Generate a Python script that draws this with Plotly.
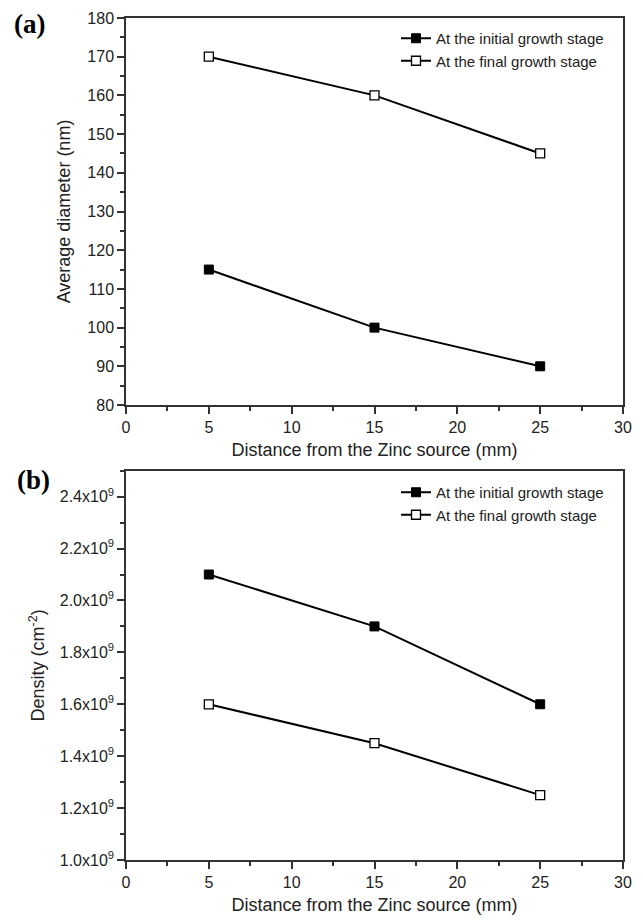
import plotly.graph_objects as go

distance = [5, 15, 25]
diam_initial = [115, 100, 90]
diam_final = [170, 160, 145]
dens_initial = [2.10e9, 1.90e9, 1.60e9]
dens_final = [1.60e9, 1.45e9, 1.25e9]
name_initial = "At the initial growth stage"
name_final = "At the final growth stage"
dens_tickvals = [1.0e9, 1.2e9, 1.4e9, 1.6e9, 1.8e9, 2.0e9, 2.2e9, 2.4e9]
dens_ticktext = ["1.0x10<sup>9</sup>", "1.2x10<sup>9</sup>", "1.4x10<sup>9</sup>", "1.6x10<sup>9</sup>",
                 "1.8x10<sup>9</sup>", "2.0x10<sup>9</sup>", "2.2x10<sup>9</sup>", "2.4x10<sup>9</sup>"]

OFF = 8  # page body margin
W, H = 643 - OFF, 922 - OFF
FONT = "Liberation Sans, Arial, sans-serif"
TXT = "#222"
AX = "#333"

def px_x(p):
    return (p - OFF) / W

def px_y(p):
    return 1 - (p - OFF) / H

line_style = dict(color="black", width=2)
m_fill = dict(symbol="square", size=9, color="black", line=dict(color="black", width=1))
m_open = dict(symbol="square", size=9, color="white", line=dict(color="black", width=1.3))

fig = go.Figure()
fig.add_trace(go.Scatter(x=distance, y=diam_initial, mode="lines+markers", name=name_initial,
                         line=line_style, marker=m_fill, xaxis="x", yaxis="y", legend="legend"))
fig.add_trace(go.Scatter(x=distance, y=diam_final, mode="lines+markers", name=name_final,
                         line=line_style, marker=m_open, xaxis="x", yaxis="y", legend="legend"))
fig.add_trace(go.Scatter(x=distance, y=dens_initial, mode="lines+markers", name=name_initial,
                         line=line_style, marker=m_fill, xaxis="x2", yaxis="y2", legend="legend2"))
fig.add_trace(go.Scatter(x=distance, y=dens_final, mode="lines+markers", name=name_final,
                         line=line_style, marker=m_open, xaxis="x2", yaxis="y2", legend="legend2"))

common_x = dict(range=[0, 30], dtick=5, tick0=0, showline=True, linecolor=AX, linewidth=1.5,
                mirror=True, ticks="outside", ticklen=7, tickwidth=1.5, tickcolor=AX,
                minor=dict(ticks="outside", ticklen=4, dtick=2.5, tickcolor=AX, tickwidth=1.5),
                showgrid=False, zeroline=False, automargin=False,
                tickfont=dict(family=FONT, size=16, color=TXT),
                domain=[px_x(126), px_x(623)])
common_y = dict(showline=True, linecolor=AX, linewidth=1.5, mirror=True, ticks="outside",
                ticklen=7, tickwidth=1.5, tickcolor=AX, showgrid=False, zeroline=False,
                automargin=False, tickfont=dict(family=FONT, size=16, color=TXT))
title_font = dict(size=18, family=FONT, color=TXT)

fig.update_layout(
    width=W, height=H,
    margin=dict(l=0, r=0, t=0, b=0),
    paper_bgcolor="white", plot_bgcolor="white",
    font=dict(family=FONT, color=TXT),
    xaxis=dict(common_x, anchor="y",
               title=dict(text="Distance from the Zinc source (mm)", font=title_font, standoff=8)),
    yaxis=dict(common_y, anchor="x", range=[80, 180], dtick=10,
               minor=dict(ticks="outside", ticklen=4, dtick=5, tickcolor=AX, tickwidth=1.5),
               domain=[px_y(405), px_y(18)],
               title=dict(text="Average diameter (nm)", font=title_font, standoff=12)),
    xaxis2=dict(common_x, anchor="y2",
                title=dict(text="Distance from the Zinc source (mm)", font=title_font, standoff=8)),
    yaxis2=dict(common_y, anchor="x2", range=[1.0e9, 2.5e9],
                tickvals=dens_tickvals, ticktext=dens_ticktext,
                minor=dict(ticks="outside", ticklen=4, dtick=1e8, tick0=1e9, tickcolor=AX, tickwidth=1.5),
                domain=[px_y(860), px_y(470.7)],
                title=dict(text="Density (cm<sup>-2</sup>)", font=title_font, standoff=10)),
    legend=dict(x=px_x(396), y=px_y(22), xanchor="left", yanchor="top", bgcolor="rgba(0,0,0,0)",
                font=dict(family=FONT, size=15, color=TXT), tracegroupgap=0, itemwidth=30),
    legend2=dict(x=px_x(396), y=px_y(476), xanchor="left", yanchor="top", bgcolor="rgba(0,0,0,0)",
                 font=dict(family=FONT, size=15, color=TXT), tracegroupgap=0, itemwidth=30),
    annotations=[
        dict(text="<b>(a)</b>", x=px_x(12), y=px_y(24), xref="paper", yref="paper", xanchor="left",
             yanchor="middle", showarrow=False, font=dict(family="Liberation Serif, Times New Roman, serif", size=27, color="black")),
        dict(text="<b>(b)</b>", x=px_x(15), y=px_y(480), xref="paper", yref="paper", xanchor="left",
             yanchor="middle", showarrow=False, font=dict(family="Liberation Serif, Times New Roman, serif", size=27, color="black")),
    ],
)

fig.write_html("out.html")
